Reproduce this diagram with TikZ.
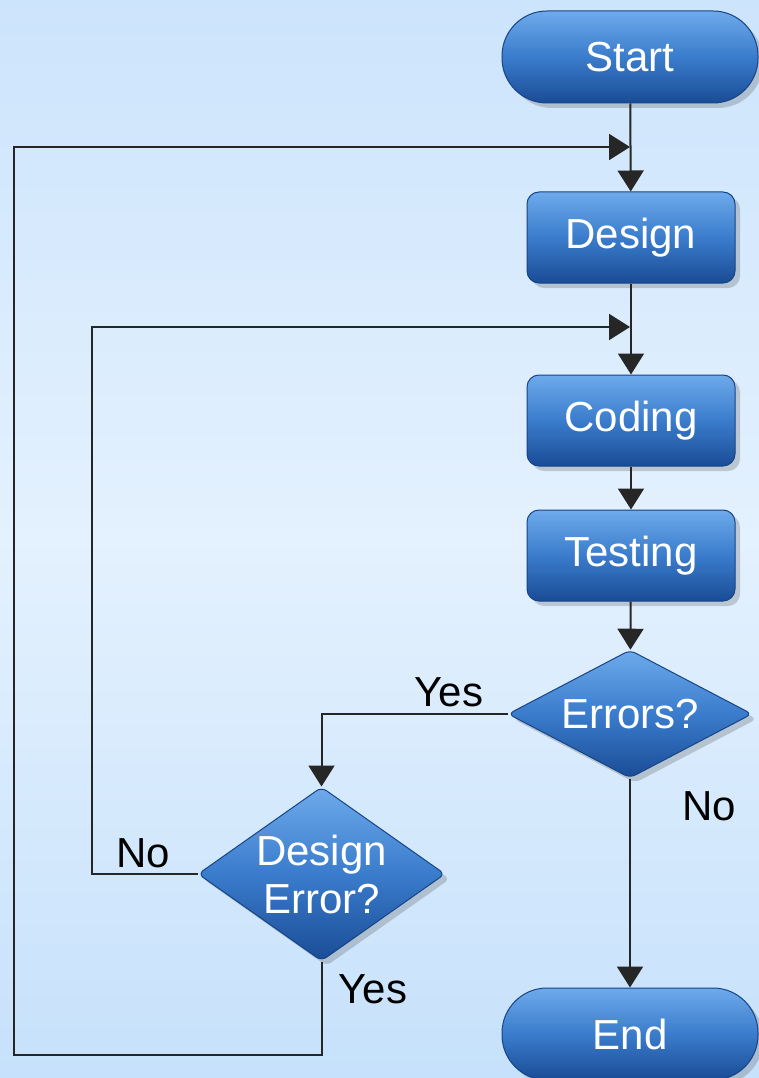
\documentclass[tikz,border=0pt]{standalone}
\usepackage{fontspec}
\setmainfont{Liberation Sans}
\usetikzlibrary{shapes.geometric,arrows.meta,shadows}
\definecolor{bgtop}{RGB}{204,228,252}
\definecolor{bgmid}{RGB}{228,241,254}
\definecolor{bgbot}{RGB}{198,225,251}
\definecolor{ntop}{RGB}{110,170,235}
\definecolor{nmid}{RGB}{58,124,204}
\definecolor{nbot}{RGB}{26,76,150}
\definecolor{nborder}{RGB}{22,68,135}
\tikzset{
  box/.style={draw=nborder, line width=1pt, top color=ntop, bottom color=nbot, middle color=nmid,
    text=white, font=\fontsize{42}{48}\selectfont, align=center,
    drop shadow={shadow xshift=5pt, shadow yshift=-5pt, opacity=0.25, fill=black!70}},
  stadium/.style={box, rectangle, rounded corners=45pt, minimum width=256pt, minimum height=92pt, inner sep=0pt},
  procbox/.style={box, rectangle, rounded corners=12pt, minimum width=208pt, minimum height=91pt, inner sep=0pt},
  decision/.style={box, diamond, rounded corners=6pt, inner sep=0pt},
  dtext/.style={text=white, font=\fontsize{42}{48}\selectfont, align=center, inner sep=0pt},
  arr/.style={line width=2pt, black!85, -{Triangle[width=26pt,length=21pt]}},
  lbl/.style={font=\fontsize{42}{48}\selectfont, text=black, inner sep=0pt}
}
\begin{document}
\begin{tikzpicture}[x=1pt,y=-1pt]
\useasboundingbox (0,0) rectangle (759,1078);
\fill[top color=bgtop, bottom color=bgbot, middle color=bgmid] (0,0) rectangle (759,1078);

\node[stadium] (start) at (630,57) {Start};
\node[procbox] (design) at (631,237.5) {Design};
\node[procbox] (coding) at (631,420.5) {Coding};
\node[procbox] (testing) at (631,555.5) {Testing};
\node[decision, minimum width=244pt, minimum height=128pt] (err) at (630,714) {};
\node[dtext] (errt) at (err.center) {Errors?};
\node[decision, minimum width=247pt, minimum height=174pt] (de) at (321.5,874) {};
\node[dtext] (det) at (de.center) {Design\\Error?};
\node[stadium] (end) at (630,1034) {End};

\coordinate (o1) at (14,1055);
\coordinate (j1) at (630,147);
\coordinate (i1) at (92,874);
\coordinate (j2) at (630,327);

\draw[arr] (start) -- (design);
\draw[arr] (design) -- (coding);
\draw[arr] (coding) -- (testing);
\draw[arr] (testing) -- (err);
\draw[arr] (err.west) -| (de.north);
\draw[arr] (err.south) -- (end.north);
\draw[arr] (de.south) |- (o1) |- (j1);
\draw[arr] (de.west) -- (i1) |- (j2);

\node[lbl] (yes1) at (449,692) {Yes};
\node[lbl] (no1) at (709,806) {No};
\node[lbl] (no2) at (143,853) {No};
\node[lbl] (yes2) at (373,989) {Yes};
\end{tikzpicture}
\end{document}
